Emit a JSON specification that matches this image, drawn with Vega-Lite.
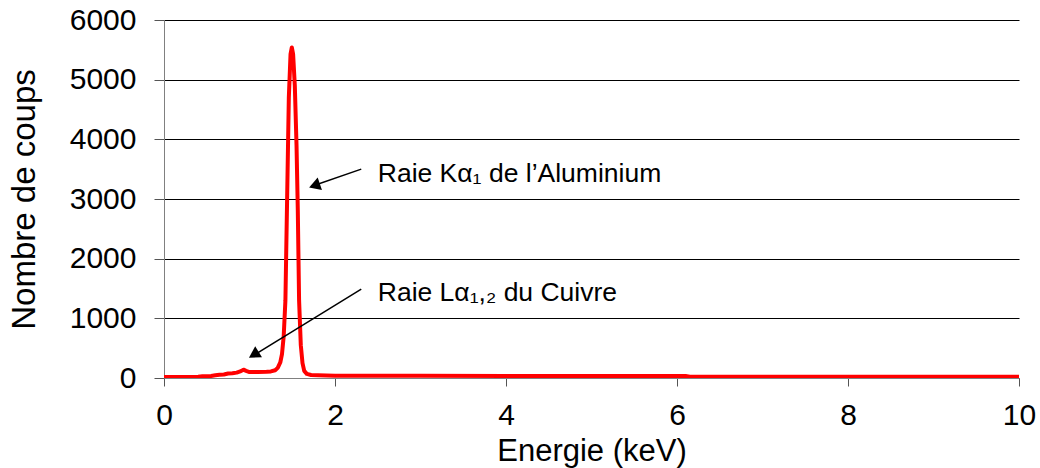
{
  "$schema": "https://vega.github.io/schema/vega-lite/v6.json",
  "width": 855,
  "height": 358,
  "autosize": {"type": "none"},
  "padding": {"left": 164, "top": 20, "right": 21, "bottom": 90},
  "background": "white",
  "config": {
    "view": {"stroke": null},
    "font": "Liberation Sans",
    "axis": {"labelColor": "black", "titleColor": "black", "titleFontWeight": "normal"}
  },
  "layer": [
    {
      "data": {"values": [
        {"x": 0, "y": 15}, {"x": 0.1, "y": 15}, {"x": 0.2, "y": 15}, {"x": 0.3, "y": 18},
        {"x": 0.4, "y": 20}, {"x": 0.45, "y": 30}, {"x": 0.5, "y": 30}, {"x": 0.55, "y": 35},
        {"x": 0.6, "y": 45}, {"x": 0.65, "y": 55}, {"x": 0.7, "y": 60}, {"x": 0.75, "y": 75},
        {"x": 0.8, "y": 80}, {"x": 0.85, "y": 90}, {"x": 0.9, "y": 115}, {"x": 0.93, "y": 140},
        {"x": 0.96, "y": 120}, {"x": 1.0, "y": 100}, {"x": 1.1, "y": 100}, {"x": 1.2, "y": 105},
        {"x": 1.25, "y": 110}, {"x": 1.3, "y": 130}, {"x": 1.33, "y": 170}, {"x": 1.36, "y": 260},
        {"x": 1.38, "y": 400}, {"x": 1.4, "y": 700}, {"x": 1.42, "y": 1300}, {"x": 1.44, "y": 3000},
        {"x": 1.46, "y": 4700}, {"x": 1.48, "y": 5430}, {"x": 1.495, "y": 5540}, {"x": 1.51, "y": 5430},
        {"x": 1.53, "y": 4900}, {"x": 1.55, "y": 3900}, {"x": 1.565, "y": 2800}, {"x": 1.58, "y": 1300},
        {"x": 1.6, "y": 550}, {"x": 1.62, "y": 250}, {"x": 1.64, "y": 120}, {"x": 1.67, "y": 70},
        {"x": 1.72, "y": 50}, {"x": 1.8, "y": 45}, {"x": 2.0, "y": 38}, {"x": 3.0, "y": 36},
        {"x": 4.0, "y": 35}, {"x": 5.0, "y": 35}, {"x": 6.1, "y": 35}, {"x": 6.15, "y": 22},
        {"x": 8.0, "y": 22}, {"x": 10.0, "y": 22}
      ]},
      "mark": {"type": "line", "color": "#ff0000", "strokeWidth": 4, "strokeJoin": "round", "clip": true},
      "encoding": {
        "x": {
          "field": "x", "type": "quantitative",
          "scale": {"domain": [0, 10], "nice": false},
          "axis": {
            "values": [0, 2, 4, 6, 8, 10], "format": "d", "grid": false, "title": "Energie (keV)",
            "domainColor": "#808080", "tickColor": "#555555", "tickSize": 8,
            "labelFontSize": 30, "labelPadding": 14, "labelFlush": false,
            "titleFontSize": 31, "titlePadding": 6
          }
        },
        "y": {
          "field": "y", "type": "quantitative",
          "scale": {"domain": [0, 6000], "nice": false},
          "axis": {
            "values": [0, 1000, 2000, 3000, 4000, 5000, 6000], "format": "d", "grid": true,
            "gridColor": "#000000", "gridWidth": 1, "gridOpacity": 1,
            "title": "Nombre de coups",
            "domainColor": "#808080", "tickColor": "#555555", "tickSize": 10,
            "labelFontSize": 30, "labelPadding": 18,
            "titleFontSize": 33, "titlePadding": 28
          }
        }
      }
    },
    {
      "data": {"values": [
        {"x": 2.307, "y": 3501, "x2": 1.72, "y2": 3210},
        {"x": 2.307, "y": 1488, "x2": 1.03, "y2": 365}
      ]},
      "mark": {"type": "rule", "color": "black", "strokeWidth": 1.5},
      "encoding": {
        "x": {"field": "x", "type": "quantitative"},
        "y": {"field": "y", "type": "quantitative"},
        "x2": {"field": "x2"},
        "y2": {"field": "y2"}
      }
    },
    {
      "data": {"values": [
        {"x": 1.76, "y": 3225, "angle": 250.9},
        {"x": 1.05, "y": 390, "angle": 238.6}
      ]},
      "mark": {"type": "point", "shape": "triangle-up", "filled": true, "color": "black", "opacity": 1, "size": 170},
      "encoding": {
        "x": {"field": "x", "type": "quantitative"},
        "y": {"field": "y", "type": "quantitative"},
        "angle": {"field": "angle", "type": "quantitative", "scale": null}
      }
    },
    {
      "data": {"values": [
        {"x": 2.5, "y": 3289, "label": "Raie Kα₁ de l’Aluminium"},
        {"x": 2.5, "y": 1292, "label": "Raie Lα₁,₂ du Cuivre"}
      ]},
      "mark": {"type": "text", "align": "left", "baseline": "alphabetic", "fontSize": 26.5, "color": "black"},
      "encoding": {
        "x": {"field": "x", "type": "quantitative"},
        "y": {"field": "y", "type": "quantitative"},
        "text": {"field": "label"}
      }
    }
  ]
}
